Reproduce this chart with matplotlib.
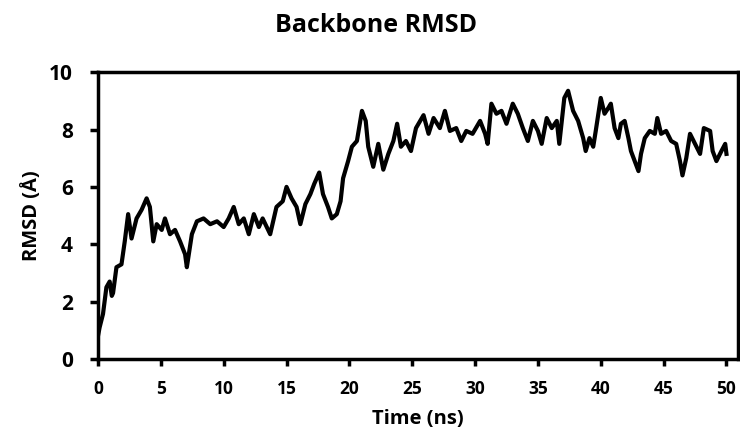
import matplotlib
matplotlib.use("Agg")
import matplotlib.pyplot as plt

time_ns = [0.0, 0.13, 0.4, 0.67, 0.93, 1.1, 1.2, 1.47, 1.87, 2.13, 2.4, 2.67, 3.07, 3.47, 3.87,
           4.13, 4.4, 4.67, 5.07, 5.33, 5.73, 6.13, 6.53, 6.93, 7.07, 7.47, 7.87, 8.4, 8.93,
           9.47, 10.0, 10.4, 10.8, 11.2, 11.6, 12.0, 12.4, 12.8, 13.1, 13.7, 14.2, 14.7, 15.0,
           15.4, 15.8, 16.1, 16.5, 16.9, 17.2, 17.6, 17.9, 18.3, 18.6, 19.0, 19.3, 19.5, 19.9,
           20.2, 20.6, 21.0, 21.3, 21.5, 21.9, 22.3, 22.7, 23.1, 23.5, 23.8, 24.1, 24.5, 24.9,
           25.3, 25.9, 26.3, 26.7, 27.2, 27.6, 28.0, 28.5, 28.9, 29.3, 29.8, 30.4, 30.8, 31.0,
           31.3, 31.7, 32.1, 32.5, 33.0, 33.4, 33.8, 34.2, 34.6, 35.0, 35.3, 35.7, 36.1, 36.5,
           36.7, 37.1, 37.4, 37.8, 38.2, 38.6, 38.8, 39.1, 39.4, 39.6, 40.0, 40.3, 40.6, 40.8,
           41.1, 41.4, 41.6, 41.9, 42.2, 42.4, 42.7, 43.0, 43.2, 43.5, 43.9, 44.3, 44.5, 44.8,
           45.2, 45.6, 46.0, 46.3, 46.5, 46.8, 47.1, 47.5, 47.9, 48.2, 48.7, 48.9, 49.2, 49.6,
           49.9, 50.0]
rmsd = [0.8, 1.1, 1.57, 2.5, 2.7, 2.2, 2.3, 3.2, 3.3, 4.1, 5.05, 4.2, 4.9, 5.2, 5.6,
        5.3, 4.1, 4.7, 4.5, 4.9, 4.35, 4.5, 4.1, 3.65, 3.2, 4.35, 4.8, 4.9, 4.7,
        4.8, 4.6, 4.9, 5.3, 4.7, 4.9, 4.35, 5.05, 4.6, 4.9, 4.35, 5.3, 5.5, 6.0,
        5.6, 5.3, 4.7, 5.4, 5.75, 6.1, 6.5, 5.75, 5.3, 4.9, 5.05, 5.5, 6.3, 6.9,
        7.4, 7.6, 8.65, 8.3, 7.4, 6.7, 7.5, 6.6, 7.15, 7.6, 8.2, 7.4, 7.6, 7.25,
        8.05, 8.5, 7.85, 8.4, 8.05, 8.65, 7.95, 8.05, 7.6, 7.95, 7.85, 8.3, 7.85, 7.5,
        8.9, 8.55, 8.65, 8.2, 8.9, 8.55, 8.05, 7.6, 8.3, 7.95, 7.5, 8.4, 8.05, 8.3,
        7.5, 9.1, 9.35, 8.65, 8.3, 7.7, 7.25, 7.7, 7.4, 7.95, 9.1, 8.55, 8.75, 8.9,
        8.05, 7.7, 8.2, 8.3, 7.7, 7.25, 6.9, 6.55, 7.15, 7.7, 7.95, 7.85, 8.4, 7.85,
        7.95, 7.6, 7.5, 6.9, 6.4, 7.0, 7.85, 7.5, 7.15, 8.05, 7.95, 7.25, 6.9, 7.25,
        7.5, 7.15]

x_ticks = [0, 5, 10, 15, 20, 25, 30, 35, 40, 45, 50]
y_ticks = [0, 2, 4, 6, 8, 10]

fam = ["Open Sans", "DejaVu Sans"]
fig = plt.figure(figsize=(7.4, 4.32), dpi=100)
ax = fig.add_axes([0.1324, 0.169, 0.8646, 0.664])
ax.plot(time_ns, rmsd, color="black", linewidth=3.0, solid_joinstyle="round")
ax.set_xlim(0, 50.9)
ax.set_ylim(0, 10)
ax.set_xticks(x_ticks)
ax.set_yticks(y_ticks)
for s in ax.spines.values():
    s.set_linewidth(2.5)
ax.tick_params(axis="x", direction="out", length=5, width=2.5, pad=10)
ax.tick_params(axis="y", direction="out", length=6, width=2.5, pad=12)
for lab in ax.get_xticklabels():
    lab.set_fontfamily(fam); lab.set_fontweight("bold"); lab.set_fontsize(12.5)
for lab in ax.get_yticklabels():
    lab.set_fontfamily(fam); lab.set_fontweight("bold"); lab.set_fontsize(15)
ax.set_xlabel("Time (ns)", fontfamily=fam, fontweight="bold", fontsize=14.5, labelpad=8)
ax.set_ylabel("RMSD (Å)", fontfamily=fam, fontweight="bold", fontsize=14.5, labelpad=5)
fig.text(0.508, 0.94, "Backbone RMSD", fontfamily=fam, fontweight="bold",
         fontsize=18, ha="center", va="center")
fig.savefig("out.png", dpi=100)
